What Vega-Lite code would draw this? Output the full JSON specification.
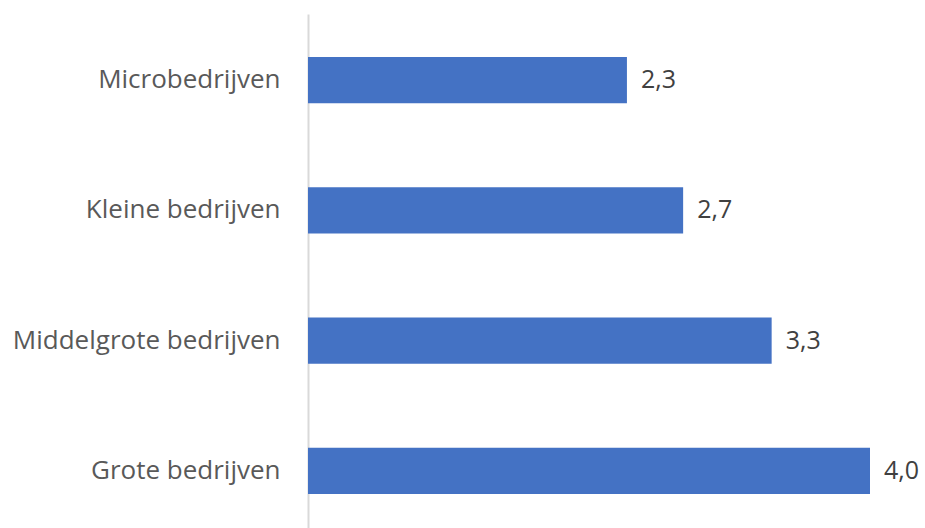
{
  "$schema": "https://vega.github.io/schema/vega-lite/v6.json",
  "autosize": {"type": "none"},
  "padding": {"left": 308, "top": 14, "right": 55, "bottom": 0},
  "width": 562,
  "height": 523,
  "background": "white",
  "data": {
    "values": [
      {"categorie": "Microbedrijven", "waarde": 2.27, "label": "2,3"},
      {"categorie": "Kleine bedrijven", "waarde": 2.67, "label": "2,7"},
      {"categorie": "Middelgrote bedrijven", "waarde": 3.3, "label": "3,3"},
      {"categorie": "Grote bedrijven", "waarde": 4.0, "label": "4,0"}
    ]
  },
  "encoding": {
    "y": {
      "field": "categorie",
      "type": "nominal",
      "sort": null,
      "scale": {"paddingInner": 0.645, "paddingOuter": 0.33},
      "axis": {
        "title": null,
        "ticks": false,
        "labelFont": "Open Sans",
        "labelFontSize": 26,
        "labelColor": "#595959",
        "labelPadding": 28,
        "domainColor": "#d9d9d9",
        "domainWidth": 2,
        "labelLimit": 400
      }
    },
    "x": {
      "field": "waarde",
      "type": "quantitative",
      "scale": {"domain": [0, 4], "nice": false},
      "axis": null
    }
  },
  "layer": [
    {"mark": {"type": "bar", "color": "#4472C4"}},
    {
      "mark": {"type": "text", "align": "left", "baseline": "middle", "dx": 14, "font": "Open Sans", "fontSize": 25, "color": "#404040"},
      "encoding": {"text": {"field": "label"}}
    }
  ],
  "config": {"view": {"stroke": null}}
}
